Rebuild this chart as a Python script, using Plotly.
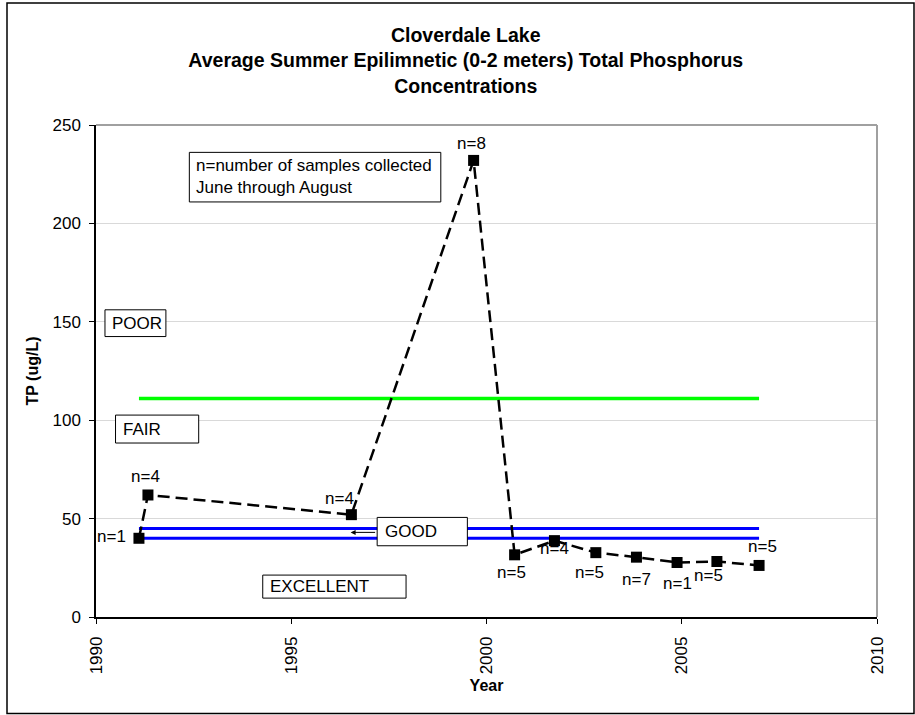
import plotly.graph_objects as go

# ---- data ----
years = [1991.1, 1991.33, 1996.54, 1999.67, 2000.72, 2001.74, 2002.8, 2003.84, 2004.88, 2005.9, 2006.98]
tp = [40, 62, 52, 232, 31.6, 38.8, 32.7, 30.4, 27.7, 28.2, 26.2]
n_labels = ["n=1", "n=4", "n=4", "n=8", "n=5", "n=4", "n=5", "n=7", "n=1", "n=5", "n=5"]
poor_fair_limit = 111
good_upper = 45
good_lower = 40

# label pixel offsets (layout only)
label_dx = [-27, -2, -12, -2, -3, 0, -6, 0, 0, -8, 3]
label_dy = [2, 18, 16, 17, -18, -8, -20, -22, -21, -14, 19]

FONT = "Liberation Sans, Arial, sans-serif"

fig = go.Figure()

x_span = [years[0], years[-1]]
fig.add_trace(go.Scatter(x=x_span, y=[poor_fair_limit] * 2, mode="lines",
                         line=dict(color="#00ff00", width=3.5), hoverinfo="skip"))
fig.add_trace(go.Scatter(x=x_span, y=[good_upper] * 2, mode="lines",
                         line=dict(color="#0000ff", width=3), hoverinfo="skip"))
fig.add_trace(go.Scatter(x=x_span, y=[good_lower] * 2, mode="lines",
                         line=dict(color="#0000ff", width=3), hoverinfo="skip"))
fig.add_trace(go.Scatter(x=years, y=tp, mode="lines+markers",
                         line=dict(color="black", width=2.5, dash="12px,6px"),
                         marker=dict(symbol="square", size=11, color="black")))

annotations = []
for x, y, t, dx, dy in zip(years, tp, n_labels, label_dx, label_dy):
    annotations.append(dict(x=x, y=y, xref="x", yref="y", text=t, showarrow=False,
                            xshift=dx, yshift=dy, font=dict(size=17, color="black", family=FONT)))

# text boxes: (x0, x1, y0, y1, text_x, text_y, text)
boxes = [
    (1992.39, 1998.83, 210.9, 236.1, 1992.52, 224.0, "n=number of samples collected<br>June through August"),
    (1990.23, 1991.79, 142.5, 156.1, 1990.37, 149.3, "POOR"),
    (1990.50, 1992.63, 88.4, 102.6, 1990.63, 95.5, "FAIR"),
    (1997.20, 1999.51, 36.2, 50.6, 1997.34, 43.4, "GOOD"),
    (1994.27, 1997.94, 9.6, 21.3, 1994.41, 15.5, "EXCELLENT"),
]
shapes = []
for x0, x1, y0, y1, tx, ty, txt in boxes:
    shapes.append(dict(type="rect", xref="x", yref="y", x0=x0, x1=x1, y0=y0, y1=y1,
                       line=dict(color="black", width=1), fillcolor="white", layer="above"))
    annotations.append(dict(x=tx, y=ty, xref="x", yref="y", text=txt, showarrow=False,
                            xanchor="left", yanchor="middle", align="left",
                            font=dict(size=17, color="black", family=FONT)))

# arrow from GOOD box
annotations.append(dict(x=1996.52, y=43.0, xref="x", yref="y", text="", showarrow=True,
                        ax=26, ay=0, arrowhead=2, arrowsize=1, arrowwidth=1, arrowcolor="black"))

# plot area top/right gray border
shapes.append(dict(type="line", xref="paper", yref="paper", x0=0, x1=1, y0=1, y1=1,
                   line=dict(color="#a0a0a0", width=2)))
shapes.append(dict(type="line", xref="paper", yref="paper", x0=1, x1=1, y0=0, y1=1,
                   line=dict(color="#a0a0a0", width=2)))

# outer chart border
W, H = 915, 715
ml, mr, mt, mb = 96, 38, 125, 98
pw, ph = W - ml - mr, H - mt - mb
shapes.append(dict(type="rect", xref="paper", yref="paper",
                   x0=(7 - ml) / pw, x1=(914 - ml) / pw,
                   y0=(H - mb - 713.5) / ph, y1=(H - mb - 3) / ph,
                   line=dict(color="black", width=1.5)))

fig.update_layout(
    width=W, height=H,
    margin=dict(l=ml, r=mr, t=mt, b=mb),
    paper_bgcolor="white", plot_bgcolor="white",
    showlegend=False,
    font=dict(family=FONT, color="black", size=17),
    title=dict(text="<b>Cloverdale Lake<br>Average Summer Epilimnetic (0-2 meters) Total Phosphorus<br>Concentrations</b>",
               x=0.509, xanchor="center", y=1 - 42 / H, yanchor="middle",
               font=dict(size=19.5, family=FONT, color="black")),
    xaxis=dict(range=[1990, 2010], dtick=5, tick0=1990, tickangle=-90,
               showgrid=False, zeroline=False, showline=True, linecolor="black", linewidth=1.5,
               ticks="outside", ticklen=5, tickcolor="black", ticklabelstandoff=6,
               tickfont=dict(size=17),
               title=dict(text="<b>Year</b>", font=dict(size=16), standoff=6)),
    yaxis=dict(range=[0, 250], dtick=50, showgrid=True, gridcolor="#d9d9d9", gridwidth=1,
               zeroline=False, showline=True, linecolor="black", linewidth=1.5,
               ticks="outside", ticklen=5, tickcolor="black", ticklabelstandoff=5,
               tickfont=dict(size=17),
               title=dict(text="<b>TP (ug/L)</b>", font=dict(size=16), standoff=10)),
    shapes=shapes,
    annotations=annotations,
)

fig.write_html("out.html", config={"displayModeBar": False},
               post_script="document.body.style.margin='0';")
